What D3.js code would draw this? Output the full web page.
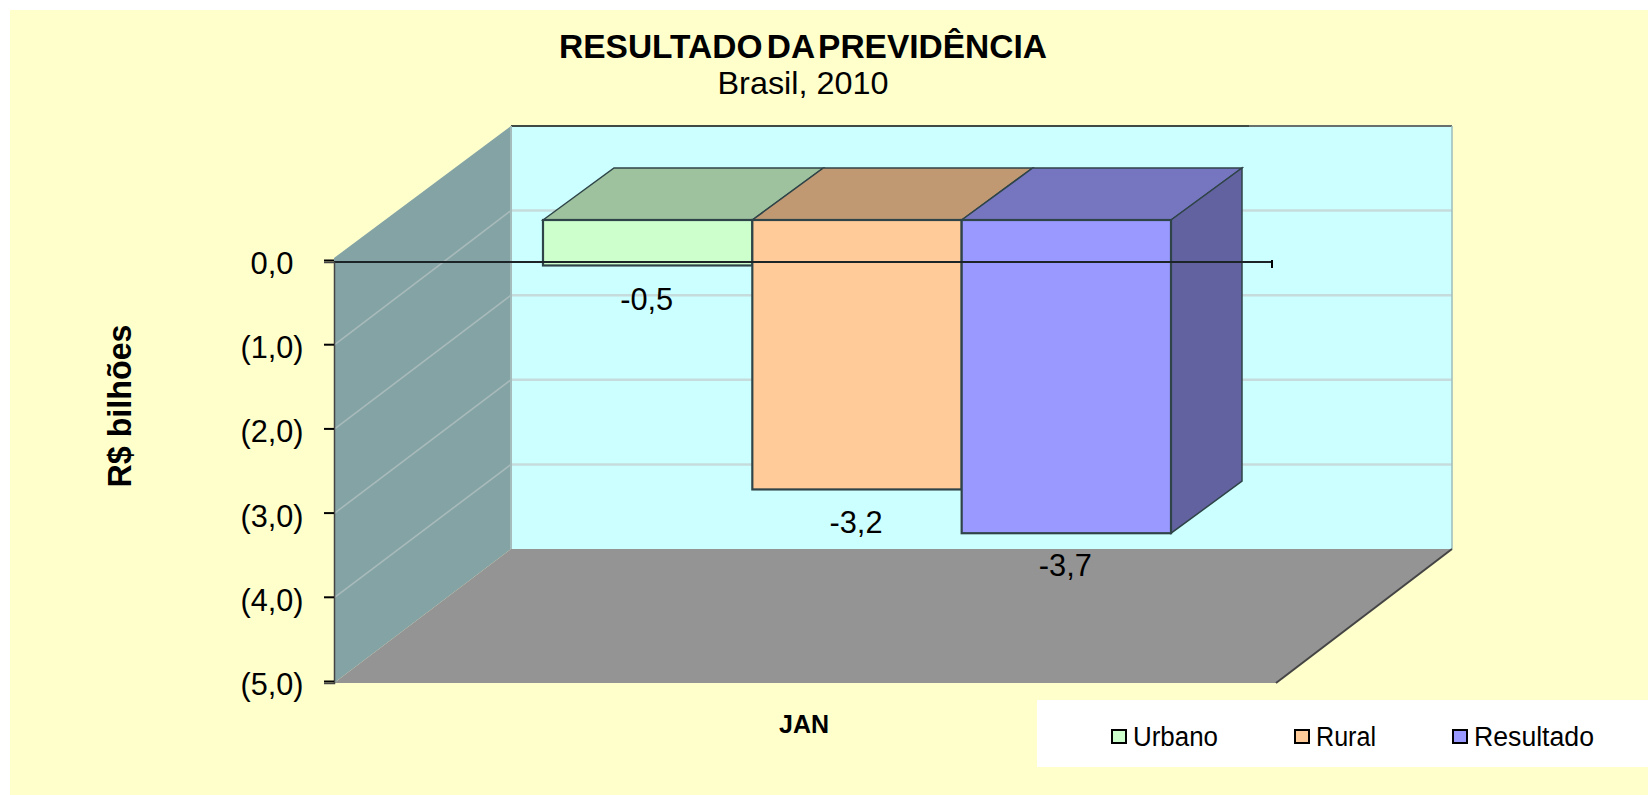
<!DOCTYPE html>
<html><head><meta charset="utf-8">
<script src="https://cdn.jsdelivr.net/npm/d3@7"></script>
<style>html,body{margin:0;padding:0;background:#fff;overflow:hidden}svg{display:block}text{font-family:"Liberation Sans",Arial,sans-serif;fill:#000}</style>
</head><body><svg id="c" width="1648" height="795"></svg>
<script>
const seriesNames = ["Urbano", "Rural", "Resultado"];
const seriesValues = [-0.54, -3.2, -3.72];
const frontColors = ["#ccffcc", "#ffcc99", "#9999ff"];
const topColors = ["#9dc29d", "#c09973", "#7676c0"];
const sideColors = ["#7da07d", "#a08060", "#6262a0"];
const yTicks = [0, -1, -2, -3, -4, -5];
const gridTicks = [-1, -2, -3, -4];
const legendSwatchX = [1112, 1295, 1453];
const legendTextX = [1133, 1316, 1474];
const legendTextLen = [85, 60, 120];
const labelY = [298, 521, 564];

const svg = d3.select("#c");
svg.append("rect").attr("x",10).attr("y",10).attr("width",1638).attr("height",785).attr("fill","#ffffcc");

const y = d3.scaleLinear().domain([0,-5]).range([262,683]);
const yBack = d3.scaleLinear().domain([0,-5]).range([126,549]);
const yBar = d3.scaleLinear().domain([0,-5]).range([220,641]);
const xBar = d3.scaleBand().domain(seriesNames).range([543,1171]);
const pts = a => a.map(p=>p.join(",")).join(" ");
const wallL=334, wallB=511, wallR=1452, floorR=1276;

// walls and floor
svg.append("polygon").attr("points",pts([[wallB,yBack(0)],[wallR,yBack(0)],[wallR,yBack(-5)],[wallB,yBack(-5)]])).attr("fill","#ccffff");
svg.append("polygon").attr("points",pts([[wallL,y(0)-4],[wallB,yBack(0)],[wallB,yBack(-5)],[wallL,y(-5)]])).attr("fill","#84a3a5");
svg.append("polygon").attr("points",pts([[wallL,y(-5)],[wallB,yBack(-5)],[wallR,yBack(-5)],[floorR,y(-5)]])).attr("fill","#949494");

// grid
svg.selectAll(".gb").data(gridTicks).join("line").attr("class","gb")
  .attr("x1",wallB).attr("x2",wallR).attr("y1",d=>yBack(d)).attr("y2",d=>yBack(d))
  .attr("stroke","#c6dcdc").attr("stroke-width",2.5);
svg.selectAll(".gl").data(gridTicks).join("line").attr("class","gl")
  .attr("x1",wallL).attr("x2",wallB).attr("y1",d=>y(d)-1).attr("y2",d=>yBack(d))
  .attr("stroke","#a8baba").attr("stroke-width",1.6);

// wall edges
svg.append("line").attr("x1",wallB).attr("x2",1249).attr("y1",yBack(0)).attr("y2",yBack(0)).attr("stroke","#3f4a45").attr("stroke-width",2);
svg.append("line").attr("x1",1249).attr("x2",wallR).attr("y1",yBack(0)).attr("y2",yBack(0)).attr("stroke","#67706c").attr("stroke-width",2);
svg.append("line").attr("x1",wallR).attr("x2",wallR).attr("y1",yBack(0)).attr("y2",yBack(-5)).attr("stroke","#9dbcbc").attr("stroke-width",1.5);
svg.append("line").attr("x1",wallB).attr("x2",wallB).attr("y1",yBack(0)).attr("y2",yBack(-5)).attr("stroke","#a5bcbc").attr("stroke-width",2);
svg.append("line").attr("x1",floorR).attr("x2",wallR).attr("y1",y(-5)).attr("y2",yBack(-5)).attr("stroke","#444").attr("stroke-width",2);

// bars
const dx=71, dy=-52, edge="#2f4448";
const data = seriesNames.map((n,i)=>({n,i,v:seriesValues[i]}));
const bars = svg.selectAll(".bar").data(data).join("g").attr("class","bar");
bars.append("polygon").attr("points",d=>{const a=xBar(d.n),b=a+xBar.bandwidth(),t=yBar(0);return pts([[a,t],[a+dx,t+dy],[b+dx,t+dy],[b,t]]);})
  .attr("fill",d=>topColors[d.i]).attr("stroke",edge).attr("stroke-width",1.5);
bars.filter(d=>d.i===2).append("polygon").attr("points",d=>{const b=xBar(d.n)+xBar.bandwidth(),t=yBar(0),e=yBar(d.v);return pts([[b,t],[b+dx,t+dy],[b+dx,e+dy],[b,e]]);})
  .attr("fill",d=>sideColors[d.i]).attr("stroke",edge).attr("stroke-width",1.5);
bars.append("rect").attr("x",d=>xBar(d.n)).attr("y",yBar(0)).attr("width",xBar.bandwidth()).attr("height",d=>yBar(d.v)-yBar(0))
  .attr("fill",d=>frontColors[d.i]).attr("stroke",edge).attr("stroke-width",2.2);

// zero line + end tick
svg.append("line").attr("x1",wallL).attr("x2",1272).attr("y1",y(0)).attr("y2",y(0)).attr("stroke","#1c2428").attr("stroke-width",2.2);
svg.append("line").attr("x1",1272).attr("x2",1272).attr("y1",y(0)-2).attr("y2",y(0)+6).attr("stroke","#000").attr("stroke-width",2);

// y axis
const fmtTick = v => v===0 ? "0,0" : `(${Math.abs(v)},0)`;
const axis = svg.append("g").attr("transform",`translate(${wallL},0)`)
  .call(d3.axisLeft(y).tickValues(yTicks).tickFormat(fmtTick).tickSize(10).tickPadding(0));
axis.select(".domain").attr("stroke","#444").attr("stroke-width",1.5);
axis.selectAll(".tick line").attr("stroke","#000").attr("stroke-width",2).attr("transform","translate(0,-2)");
axis.selectAll(".tick text").attr("x",-62).attr("dy","0.36em").attr("text-anchor","middle")
  .attr("textLength",d=>d===0?43:63).attr("lengthAdjust","spacingAndGlyphs")
  .style("font-size","32px").attr("font-family",null);

// data labels
const fmtVal = v => d3.format(".1f")(v).replace(".",",").replace("−","-");
svg.selectAll(".lab").data(data).join("text").attr("class","lab")
  .attr("x",d=>xBar(d.n)+xBar.bandwidth()/2-1).attr("y",d=>labelY[d.i]).attr("dy","0.36em").attr("text-anchor","middle")
  .attr("textLength",53).attr("lengthAdjust","spacingAndGlyphs")
  .style("font-size","32px").text(d=>fmtVal(d.v));

// titles
svg.append("text").attr("x",803).attr("y",58).attr("text-anchor","middle").attr("font-weight","bold")
  .attr("textLength",488).attr("lengthAdjust","spacingAndGlyphs").style("font-size","33px").style("word-spacing","-5px").text("RESULTADO DA PREVIDÊNCIA");
svg.append("text").attr("x",803).attr("y",94).attr("text-anchor","middle")
  .attr("textLength",171).attr("lengthAdjust","spacingAndGlyphs").style("font-size","32px").text("Brasil, 2010");
svg.append("text").attr("transform","translate(131,406) rotate(-90)").attr("text-anchor","middle").attr("font-weight","bold")
  .attr("textLength",163).attr("lengthAdjust","spacingAndGlyphs").style("font-size","33px").text("R$ bilhões");
svg.append("text").attr("x",804).attr("y",733).attr("text-anchor","middle").attr("font-weight","bold").style("font-size","25px").text("JAN");

// legend
svg.append("rect").attr("x",1037).attr("y",700).attr("width",611).attr("height",67).attr("fill","#fff");
const leg = svg.selectAll(".leg").data(data).join("g").attr("class","leg");
leg.append("rect").attr("x",d=>legendSwatchX[d.i]).attr("y",730).attr("width",14).attr("height",13)
  .attr("fill",d=>frontColors[d.i]).attr("stroke","#000").attr("stroke-width",2);
leg.append("text").attr("x",d=>legendTextX[d.i]).attr("y",746).style("font-size","27px")
  .attr("textLength",d=>legendTextLen[d.i]).attr("lengthAdjust","spacingAndGlyphs").text(d=>d.n);
</script></body></html>
